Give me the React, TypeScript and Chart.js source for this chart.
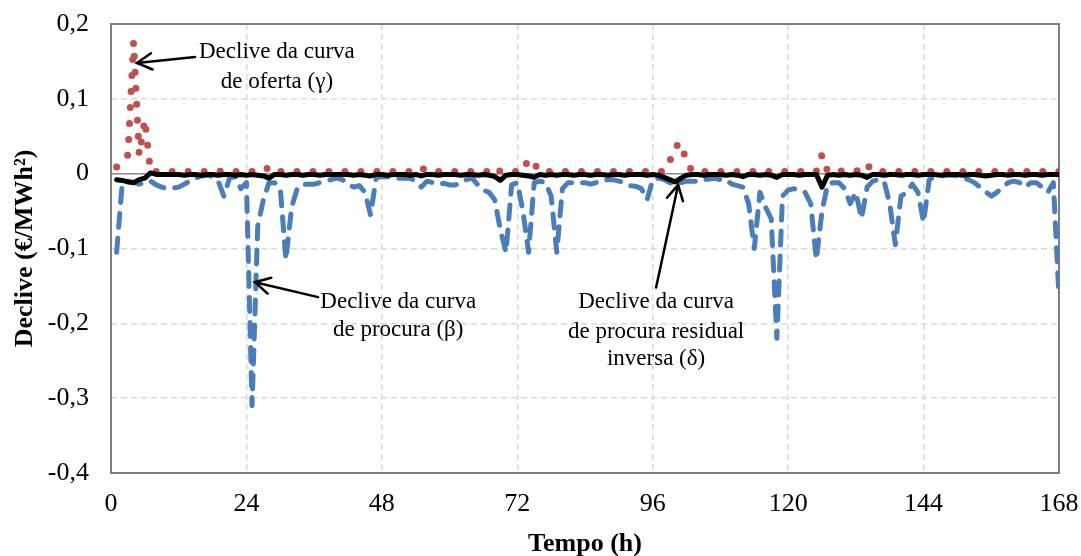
import React, { useEffect, useRef } from "react";
import { Chart, registerables } from "chart.js";

Chart.register(...registerables);

const FONT = "'Times New Roman', 'Liberation Serif', 'DejaVu Serif', serif";

// Hours 1..168 (index + 1 is the hour)
const xTicksStep = 24;
const xMin = 0;
const xMax = 168;
const yMin = -0.4;
const yMax = 0.2;
const yStep = 0.1;

const xTitle = "Tempo (h)";
const yTitle = "Declive (€/MWh²)";

// Declive da curva de procura (β)
const betaValues = [
  -0.105, -0.012, -0.010, -0.012, -0.014, -0.012, -0.010, -0.015, -0.018, -0.020,
  -0.019, -0.018, -0.014, -0.010, -0.006, -0.003, -0.002, -0.004, -0.010, -0.030,
  -0.006, -0.004, -0.020, -0.012, -0.310, -0.070, -0.035, -0.012, -0.012, -0.020,
  -0.115, -0.045, -0.020, -0.014, -0.014, -0.014, -0.012, -0.010, -0.008, -0.006,
  -0.008, -0.014, -0.018, -0.016, -0.025, -0.055, -0.005, -0.004, -0.004, -0.005,
  -0.006, -0.006, -0.006, -0.010, -0.018, -0.010, -0.012, -0.014, -0.013, -0.015,
  -0.015, -0.012, -0.008, -0.006, -0.015, -0.022, -0.025, -0.035, -0.075, -0.105,
  -0.015, -0.012, -0.050, -0.105, -0.012, -0.010, -0.012, -0.030, -0.105, -0.020,
  -0.012, -0.012, -0.012, -0.012, -0.014, -0.012, -0.010, -0.008, -0.008, -0.010,
  -0.012, -0.016, -0.017, -0.020, -0.035, -0.008, -0.006, -0.008, -0.012, -0.014,
  -0.012, -0.010, -0.010, -0.010, -0.008, -0.007, -0.006, -0.008, -0.008, -0.014,
  -0.016, -0.018, -0.040, -0.100, -0.025, -0.045, -0.060, -0.220, -0.030, -0.022,
  -0.020, -0.022, -0.025, -0.040, -0.115, -0.050, -0.014, -0.012, -0.012, -0.020,
  -0.040, -0.025, -0.060, -0.018, -0.010, -0.008, -0.010, -0.040, -0.095, -0.030,
  -0.025, -0.014, -0.025, -0.065, -0.008, -0.004, -0.003, -0.002, -0.002, -0.003,
  -0.005, -0.008, -0.012, -0.018, -0.024, -0.030, -0.025, -0.018, -0.012, -0.010,
  -0.012, -0.018, -0.012, -0.012, -0.018, -0.025, -0.012, -0.165,
];

// Declive da curva de oferta (γ)
const gammaValues = [
  0.009, 0.016, 0.025, 0.176, 0.025, 0.072, 0.003, 0.003, 0.003, 0.003,
  0.003, 0.003, 0.003, 0.003, 0.003, 0.003, 0.003, 0.003, 0.003, 0.004,
  0.003, 0.003, 0.003, 0.003, 0.003, 0.003, 0.003, 0.009, 0.003, 0.003,
  0.003, 0.003, 0.003, 0.003, 0.003, 0.003, 0.003, 0.003, 0.003, 0.003,
  0.003, 0.003, 0.003, 0.003, 0.003, 0.003, 0.003, 0.003, 0.003, 0.003,
  0.003, 0.003, 0.003, 0.003, 0.008, 0.003, 0.003, 0.003, 0.003, 0.003,
  0.003, 0.003, 0.003, 0.003, 0.003, 0.003, 0.003, 0.009, 0.003, 0.003,
  0.003, 0.003, 0.003, 0.020, 0.013, 0.003, 0.003, 0.003, 0.003, 0.003,
  0.003, 0.003, 0.003, 0.003, 0.003, 0.003, 0.003, 0.003, 0.003, 0.003,
  0.003, 0.003, 0.003, 0.003, 0.003, 0.003, 0.003, 0.003, 0.016, 0.036,
  0.041, 0.016, 0.003, 0.003, 0.003, 0.003, 0.003, 0.003, 0.003, 0.003,
  0.003, 0.003, 0.003, 0.003, 0.003, 0.003, 0.003, 0.004, 0.003, 0.003,
  0.003, 0.003, 0.003, 0.003, 0.003, 0.025, 0.003, 0.003, 0.003, 0.004,
  0.003, 0.004, 0.003, 0.012, 0.003, 0.003, 0.003, 0.003, 0.003, 0.003,
  0.003, 0.003, 0.003, 0.003, 0.003, 0.003, 0.003, 0.003, 0.003, 0.003,
  0.003, 0.003, 0.003, 0.003, 0.003, 0.003, 0.003, 0.003, 0.003, 0.003,
  0.003, 0.003, 0.003, 0.003, 0.003, 0.003, 0.003, 0.003,
];

// Declive da curva de procura residual inversa (δ)
const deltaValues = [
  -0.008, -0.009, -0.011, -0.012, -0.008, -0.006, 0.001, -0.001, -0.001, -0.001,
  -0.001, -0.001, -0.002, -0.001, -0.001, -0.002, -0.001, -0.001, -0.002, -0.001,
  -0.001, -0.002, -0.001, -0.002, -0.001, -0.002, -0.003, -0.006, -0.001, -0.001,
  -0.002, -0.001, -0.001, -0.002, -0.001, -0.001, -0.002, -0.001, -0.001, -0.001,
  -0.001, -0.001, -0.002, -0.001, -0.002, -0.003, -0.001, -0.001, -0.002, -0.001,
  -0.001, -0.001, -0.002, -0.001, -0.003, -0.001, -0.001, -0.002, -0.001, -0.001,
  -0.001, -0.002, -0.001, -0.001, -0.002, -0.001, -0.002, -0.004, -0.009, -0.002,
  -0.001, -0.001, -0.002, -0.003, -0.005, -0.001, -0.002, -0.001, -0.002, -0.001,
  -0.001, -0.002, -0.001, -0.001, -0.002, -0.001, -0.001, -0.002, -0.001, -0.001,
  -0.002, -0.001, -0.001, -0.001, -0.002, -0.001, -0.002, -0.005, -0.008, -0.011,
  -0.006, -0.002, -0.001, -0.001, -0.002, -0.001, -0.001, -0.001, -0.002, -0.001,
  -0.002, -0.004, -0.001, -0.001, -0.002, -0.001, -0.002, -0.005, -0.001, -0.001,
  -0.001, -0.002, -0.001, -0.001, -0.001, -0.018, -0.002, -0.001, -0.002, -0.001,
  -0.002, -0.001, -0.002, -0.005, -0.001, -0.001, -0.002, -0.001, -0.001, -0.002,
  -0.001, -0.001, -0.002, -0.001, -0.001, -0.001, -0.002, -0.001, -0.001, -0.001,
  -0.002, -0.001, -0.001, -0.002, -0.003, -0.002, -0.001, -0.001, -0.002, -0.001,
  -0.001, -0.002, -0.001, -0.001, -0.002, -0.001, -0.001, -0.001,
];

// Annotation texts, anchored in data coordinates (hour, value)
const annotationTexts = [
  ["Declive da curva", "de oferta (γ)"],
  ["Declive da curva", "de procura (β)"],
  ["Declive da curva", "de procura residual", "inversa (δ)"],
];
const annotationTextX = [29.4, 50.9, 96.6];
const annotationTextY = [
  [0.163, 0.123],
  [-0.171, -0.209],
  [-0.172, -0.212, -0.248],
];
const arrowFrom = [
  [14.9, 0.156],
  [36.7, -0.165],
  [96.6, -0.152],
];
const arrowTo = [
  [4.6, 0.148],
  [25.5, -0.145],
  [100.5, -0.015],
];

const toPoints = (vals: number[]) => vals.map((v, i) => ({ x: i + 1, y: v }));

const decorPlugin = {
  id: "decor",
  beforeDatasetsDraw(chart: any) {
    const { ctx, chartArea: a, scales } = chart;
    const y0 = scales.y.getPixelForValue(0);
    ctx.save();
    ctx.strokeStyle = "#8c8c8c";
    ctx.lineWidth = 1.5;
    ctx.beginPath();
    ctx.moveTo(a.left, y0);
    ctx.lineTo(a.right, y0);
    ctx.stroke();
    ctx.strokeStyle = "#7f7f7f";
    ctx.lineWidth = 2;
    ctx.strokeRect(a.left, a.top, a.right - a.left, a.bottom - a.top);
    ctx.restore();
  },
  afterDatasetsDraw(chart: any) {
    const { ctx, scales } = chart;
    const xs = scales.x;
    const ys = scales.y;
    ctx.save();
    ctx.fillStyle = "#000";
    ctx.strokeStyle = "#000";
    ctx.font = `23px ${FONT}`;
    ctx.textAlign = "center";
    ctx.textBaseline = "middle";
    annotationTexts.forEach((lines, i) => {
      const tx = xs.getPixelForValue(annotationTextX[i]);
      lines.forEach((line, j) => {
        ctx.fillText(line, tx, ys.getPixelForValue(annotationTextY[i][j]));
      });
      const fx = xs.getPixelForValue(arrowFrom[i][0]);
      const fy = ys.getPixelForValue(arrowFrom[i][1]);
      const px = xs.getPixelForValue(arrowTo[i][0]);
      const py = ys.getPixelForValue(arrowTo[i][1]);
      ctx.lineWidth = 2.5;
      ctx.lineCap = "round";
      ctx.beginPath();
      ctx.moveTo(fx, fy);
      ctx.lineTo(px, py);
      ctx.stroke();
      const ang = Math.atan2(fy - py, fx - px);
      const len = 17;
      const spread = 0.5;
      ctx.beginPath();
      ctx.moveTo(px + len * Math.cos(ang + spread), py + len * Math.sin(ang + spread));
      ctx.lineTo(px, py);
      ctx.lineTo(px + len * Math.cos(ang - spread), py + len * Math.sin(ang - spread));
      ctx.stroke();
    });
    ctx.restore();
  },
};

const fmt = (v: number) => {
  const r = Math.round(v * 10) / 10;
  if (r === 0) return "0";
  return r.toFixed(1).replace(".", ",");
};

export default function App() {
  const ref = useRef<HTMLCanvasElement | null>(null);
  useEffect(() => {
    if (!ref.current) return;
    const chart = new Chart(ref.current, {
      type: "line",
      data: {
        datasets: [
          {
            label: "β",
            data: toPoints(betaValues),
            borderColor: "#4a7ebb",
            borderWidth: 5,
            borderDash: [14, 11],
            borderCapStyle: "round",
            borderJoinStyle: "round",
            pointRadius: 0,
            tension: 0,
            order: 2,
          },
          {
            label: "γ",
            data: toPoints(gammaValues),
            borderColor: "#c0504d",
            borderWidth: 7,
            borderDash: [0, 16],
            borderCapStyle: "round",
            borderJoinStyle: "round",
            pointRadius: 0,
            tension: 0,
            order: 1,
          },
          {
            label: "δ",
            data: toPoints(deltaValues),
            borderColor: "#000000",
            borderWidth: 5,
            borderCapStyle: "round",
            borderJoinStyle: "round",
            pointRadius: 0,
            tension: 0,
            order: 0,
          },
        ],
      },
      options: {
        responsive: false,
        maintainAspectRatio: false,
        devicePixelRatio: 1,
        animation: false,
        layout: { padding: { left: 0, right: 22, top: 24, bottom: 0 } },
        plugins: { legend: { display: false }, tooltip: { enabled: false } },
        scales: {
          x: {
            type: "linear",
            min: xMin,
            max: xMax,
            afterFit: (s: any) => {
              s.height = 83;
              s.paddingLeft = 0;
              s.paddingRight = 0;
            },
            ticks: {
              stepSize: xTicksStep,
              autoSkip: false,
              maxRotation: 0,
              padding: 16,
              color: "#000",
              font: { family: FONT, size: 26 },
            },
            grid: { color: "#d9d9d9", lineWidth: 1.5, drawTicks: false },
            border: { display: false, dash: [6, 4] },
            title: {
              display: true,
              text: xTitle,
              color: "#000",
              font: { family: FONT, size: 26, weight: "bold" },
              padding: { top: 0, bottom: -4 },
            },
          },
          y: {
            type: "linear",
            min: yMin,
            max: yMax,
            afterFit: (s: any) => {
              s.width = 111;
              s.paddingTop = 0;
              s.paddingBottom = 0;
            },
            ticks: {
              stepSize: yStep,
              padding: 22,
              color: "#000",
              font: { family: FONT, size: 26 },
              callback: (v: any) => fmt(Number(v)),
            },
            grid: { color: "#d9d9d9", lineWidth: 1.5, drawTicks: false },
            border: { display: false, dash: [6, 4] },
            title: {
              display: true,
              text: yTitle,
              color: "#000",
              font: { family: FONT, size: 26, weight: "bold" },
              padding: { top: 10, bottom: 0 },
            },
          },
        },
      },
      plugins: [decorPlugin],
    } as any);
    return () => chart.destroy();
  }, []);
  return (
    <div style={{ position: "absolute", left: 0, top: 0, width: 1081, height: 556, background: "#fff" }}>
      <canvas ref={ref} width={1081} height={556} />
    </div>
  );
}
